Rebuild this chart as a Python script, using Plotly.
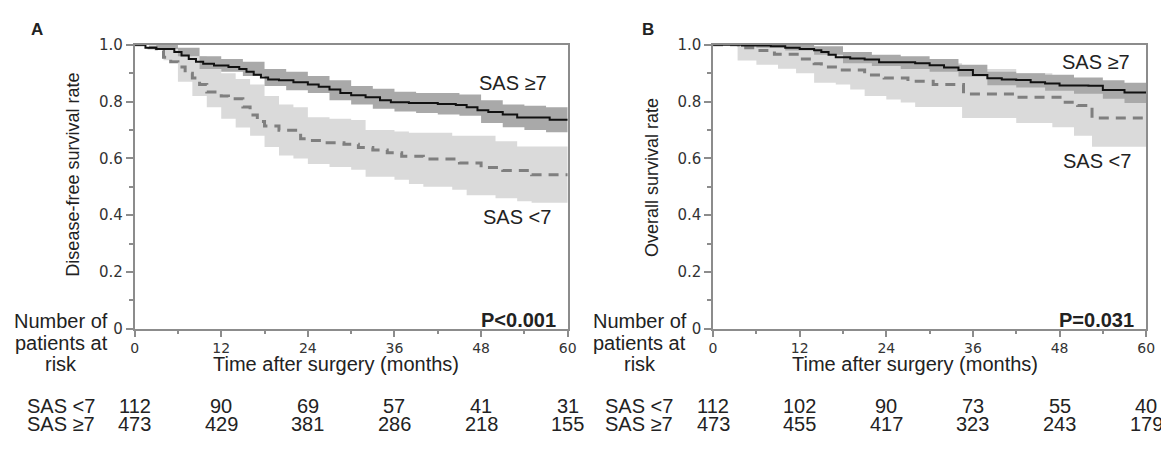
import plotly.graph_objects as go

# ---------------- Panel A: disease-free survival ----------------
dfs_hi_t = [0, 1.5, 3, 5.5, 6.5, 7.5, 8.5, 9.5, 11, 13, 14.5, 15.5, 16.5, 17.5, 18.5, 20, 22, 24, 25.5, 27,
            28.5, 30, 32, 34, 35.5, 38, 42, 44.5, 46, 47.5, 49, 51, 53, 57.5, 60]
dfs_hi_s = [1.0, 0.99, 0.985, 0.975, 0.962, 0.95, 0.94, 0.933, 0.927, 0.922, 0.915, 0.905, 0.895, 0.885, 0.878,
            0.875, 0.868, 0.86, 0.852, 0.843, 0.83, 0.822, 0.815, 0.805, 0.798, 0.795, 0.792, 0.788, 0.78, 0.77,
            0.763, 0.755, 0.744, 0.736, 0.736]
dfs_hi_band_t = [0, 3, 6, 9, 12, 15, 18, 21, 24, 27, 30, 33, 36, 39, 42, 45, 48, 51, 54, 57, 60]
dfs_hi_up = [1.0, 1.0, 0.99, 0.96, 0.95, 0.94, 0.915, 0.905, 0.89, 0.875, 0.855, 0.845, 0.835, 0.83, 0.83,
             0.825, 0.805, 0.79, 0.785, 0.78, 0.78]
dfs_hi_lo = [1.0, 0.985, 0.96, 0.915, 0.905, 0.89, 0.855, 0.84, 0.83, 0.805, 0.79, 0.775, 0.765, 0.76, 0.755,
             0.75, 0.725, 0.71, 0.7, 0.692, 0.692]

dfs_lo_t = [0, 2, 3, 4, 5, 6, 7, 8, 9, 10, 12, 13, 15, 16, 17, 18, 20, 23, 24, 26, 29, 31, 33, 35, 37, 40, 45,
            48, 51, 55, 60]
dfs_lo_s = [1.0, 0.99, 0.98, 0.956, 0.94, 0.922, 0.9, 0.883, 0.86, 0.834, 0.82, 0.81, 0.781, 0.753, 0.73,
            0.714, 0.699, 0.669, 0.663, 0.655, 0.65, 0.638, 0.63, 0.62, 0.608, 0.598, 0.584, 0.568, 0.557,
            0.542, 0.542]
dfs_lo_band_t = [0, 2, 4, 6, 8, 10, 12, 14, 16, 18, 20, 22, 24, 27, 30, 32, 36, 38, 40, 44, 46, 50, 53, 55, 60]
dfs_lo_up = [1.0, 1.0, 0.995, 0.98, 0.96, 0.93, 0.9, 0.88, 0.86, 0.82, 0.79, 0.78, 0.745, 0.74, 0.735, 0.7,
             0.695, 0.69, 0.69, 0.68, 0.68, 0.66, 0.642, 0.642, 0.642]
dfs_lo_lo = [1.0, 0.985, 0.946, 0.87, 0.82, 0.78, 0.74, 0.709, 0.68, 0.64, 0.61, 0.6, 0.58, 0.57, 0.56, 0.535,
             0.525, 0.51, 0.5, 0.49, 0.47, 0.46, 0.449, 0.444, 0.444]

# ---------------- Panel B: overall survival ----------------
os_hi_t = [0, 4, 8, 10, 12, 14, 15, 16, 17, 19, 21, 23, 28, 30, 32, 34, 36, 38, 40, 42, 44, 46, 48, 52, 54, 57, 60]
os_hi_s = [1.0, 0.998, 0.995, 0.99, 0.985, 0.981, 0.975, 0.965, 0.956, 0.952, 0.948, 0.939, 0.935, 0.928, 0.92,
           0.911, 0.894, 0.882, 0.878, 0.876, 0.868, 0.864, 0.857, 0.856, 0.841, 0.832, 0.832]
os_hi_band_t = [0, 6, 10, 14, 18, 22, 26, 30, 34, 38, 42, 46, 50, 54, 57, 60]
os_hi_up = [1.0, 1.0, 1.0, 0.995, 0.975, 0.965, 0.96, 0.95, 0.93, 0.905, 0.9, 0.895, 0.885, 0.875, 0.866, 0.866]
os_hi_lo = [1.0, 0.99, 0.98, 0.965, 0.935, 0.925, 0.915, 0.905, 0.888, 0.858, 0.85, 0.838, 0.828, 0.81, 0.795, 0.795]

os_lo_t = [0, 3.5, 6.5, 8.5, 12, 14, 15, 17.5, 21, 23.7, 27, 30.5, 34.7, 42, 48.5, 50.5, 52.5, 60]
os_lo_s = [1.0, 0.99, 0.98, 0.967, 0.95, 0.933, 0.922, 0.911, 0.894, 0.883, 0.872, 0.86, 0.827, 0.815, 0.798,
           0.786, 0.742, 0.742]
os_lo_band_t = [0, 3.4, 6, 9, 11.5, 14, 17, 19, 21, 24, 26, 28, 34.5, 42, 47, 50, 52.5, 60]
os_lo_up = [1.0, 1.0, 1.0, 0.995, 0.99, 0.98, 0.97, 0.96, 0.95, 0.945, 0.94, 0.935, 0.915, 0.9, 0.89, 0.88,
            0.85, 0.85]
os_lo_lo = [1.0, 0.945, 0.93, 0.916, 0.9, 0.866, 0.86, 0.843, 0.82, 0.807, 0.797, 0.781, 0.742, 0.725, 0.71,
            0.68, 0.641, 0.641]

# ---------------- Risk tables & labels ----------------
risk_times = [0, 12, 24, 36, 48, 60]
risk_a_lo = [112, 90, 69, 57, 41, 31]
risk_a_hi = [473, 429, 381, 286, 218, 155]
risk_b_lo = [112, 102, 90, 73, 55, 40]
risk_b_hi = [473, 455, 417, 323, 243, 179]
group_labels = ["SAS &lt;7", "SAS ≥7"]
p_values = ["P&lt;0.001", "P=0.031"]
y_titles = ["Disease-free survival rate", "Overall survival rate"]
x_title = "Time after surgery (months)"
y_ticks = [0, 0.2, 0.4, 0.6, 0.8, 1.0]
y_ticktext = ["0", "0.2", "0.4", "0.6", "0.8", "1.0"]

# page body has an 8px default margin: the figure is drawn from (8, 8)
OFF = 8
W, H = 1169 - OFF, 450 - OFF
LIGHT = "#dadada"
DARK = "#a9a9a9"
DASHC = "#7f7f7f"
AXC = "#8c8c8c"
TXT = "#222222"
FONT = "Liberation Sans, Arial, sans-serif"
TICKFONT = "DejaVu Sans, Verdana, sans-serif"


def px(p):
    return (p - OFF) / W


def py(p):
    return (H - (p - OFF)) / H


fig = go.Figure()


def band(t, lo, up, color, xa, ya):
    fig.add_trace(go.Scatter(x=t, y=lo, mode="lines", line=dict(width=0, shape="hv", color=color),
                             xaxis=xa, yaxis=ya, showlegend=False, hoverinfo="skip"))
    fig.add_trace(go.Scatter(x=t, y=up, mode="lines", line=dict(width=0, shape="hv", color=color),
                             fill="tonexty", fillcolor=color, xaxis=xa, yaxis=ya,
                             showlegend=False, hoverinfo="skip"))


for (xa, ya, lt, lu, ll, ls, lst, ht, hu, hl, hs, hst) in [
    ("x", "y", dfs_lo_band_t, dfs_lo_up, dfs_lo_lo, dfs_lo_s, dfs_lo_t,
     dfs_hi_band_t, dfs_hi_up, dfs_hi_lo, dfs_hi_s, dfs_hi_t),
    ("x2", "y2", os_lo_band_t, os_lo_up, os_lo_lo, os_lo_s, os_lo_t,
     os_hi_band_t, os_hi_up, os_hi_lo, os_hi_s, os_hi_t),
]:
    band(lt, ll, lu, LIGHT, xa, ya)
    band(ht, hl, hu, DARK, xa, ya)
    fig.add_trace(go.Scatter(x=lst, y=ls, mode="lines",
                             line=dict(color=DASHC, width=3, shape="hv", dash="10px,7px"),
                             xaxis=xa, yaxis=ya, showlegend=False, hoverinfo="skip"))
    fig.add_trace(go.Scatter(x=hst, y=hs, mode="lines",
                             line=dict(color="#111111", width=2, shape="hv"),
                             xaxis=xa, yaxis=ya, showlegend=False, hoverinfo="skip"))

xcommon = dict(range=[0, 60], tickvals=risk_times, ticks="outside", ticklen=6, tickwidth=1.5, tickcolor=AXC,
               showline=True, linecolor=AXC, linewidth=1.5, mirror=True, showgrid=False, zeroline=False,
               tickfont=dict(family=TICKFONT, size=14, color="#333333"),
               minor=dict(tickvals=[6, 18, 30, 42, 54], ticks="outside", ticklen=3, tickwidth=1.5, tickcolor=AXC))
ycommon = dict(range=[0, 1], tickvals=y_ticks, ticktext=y_ticktext, ticks="outside", ticklen=7, tickwidth=1.5,
               tickcolor=AXC, showline=True, linecolor=AXC, linewidth=1.5, mirror=True, showgrid=False,
               zeroline=False, tickfont=dict(family=TICKFONT, size=15, color="#333333"),
               minor=dict(tickvals=[0.1, 0.3, 0.5, 0.7, 0.9], ticks="outside", ticklen=4, tickwidth=1.5,
                          tickcolor=AXC))

fig.update_layout(
    width=W, height=H, margin=dict(l=0, r=0, t=0, b=0),
    paper_bgcolor="white", plot_bgcolor="white", showlegend=False, hovermode=False,
    xaxis=dict(domain=[px(132), px(570)], anchor="y", **xcommon),
    yaxis=dict(domain=[py(333), py(37)], anchor="x", **ycommon),
    xaxis2=dict(domain=[px(717), px(1155)], anchor="y2", **xcommon),
    yaxis2=dict(domain=[py(333), py(37)], anchor="x2", **ycommon),
)

ann = []


def txt(text, x, y, size=20, xanchor="center", yanchor="middle", bold=False, xref="paper", angle=0):
    ann.append(dict(text=("<b>%s</b>" % text) if bold else text, x=x, y=y, xref=xref, yref="paper",
                    xanchor=xanchor, yanchor=yanchor, showarrow=False, textangle=angle,
                    font=dict(family=FONT, size=size, color=TXT)))


for k, (off, xr) in enumerate([(0, "x"), (585, "x2")]):
    txt("AB"[k], px([33, 651][k]), py(21), size=17, bold=True)
    txt(y_titles[k], px(70 + off), py([172, 175][k]), size=18, angle=-90)
    txt(x_title, px(336 + off), py(370))
    txt("Number of", px(58 + off), py(325))
    txt("patients at", px(58 + off), py(348))
    txt("risk", px(58 + off), py(370))
    txt(p_values[k], px(560 + off), py(324), bold=True, xanchor="right")
    txt(group_labels[1], px([515, 1104][k]), py([77, 55][k]))
    txt(group_labels[0], px([519, 1105][k]), py([217, 158][k]))
    txt(group_labels[0], px(21 + off), py(413), xanchor="left")
    txt(group_labels[1], px(21 + off), py(432), xanchor="left")
    lo_vals = [risk_a_lo, risk_b_lo][k]
    hi_vals = [risk_a_hi, risk_b_hi][k]
    for t, a, b in zip(risk_times, lo_vals, hi_vals):
        txt(str(a), t, py(413), xref=xr)
        txt(str(b), t, py(432), xref=xr)

fig.update_layout(annotations=ann)
fig.write_html("out.html")
